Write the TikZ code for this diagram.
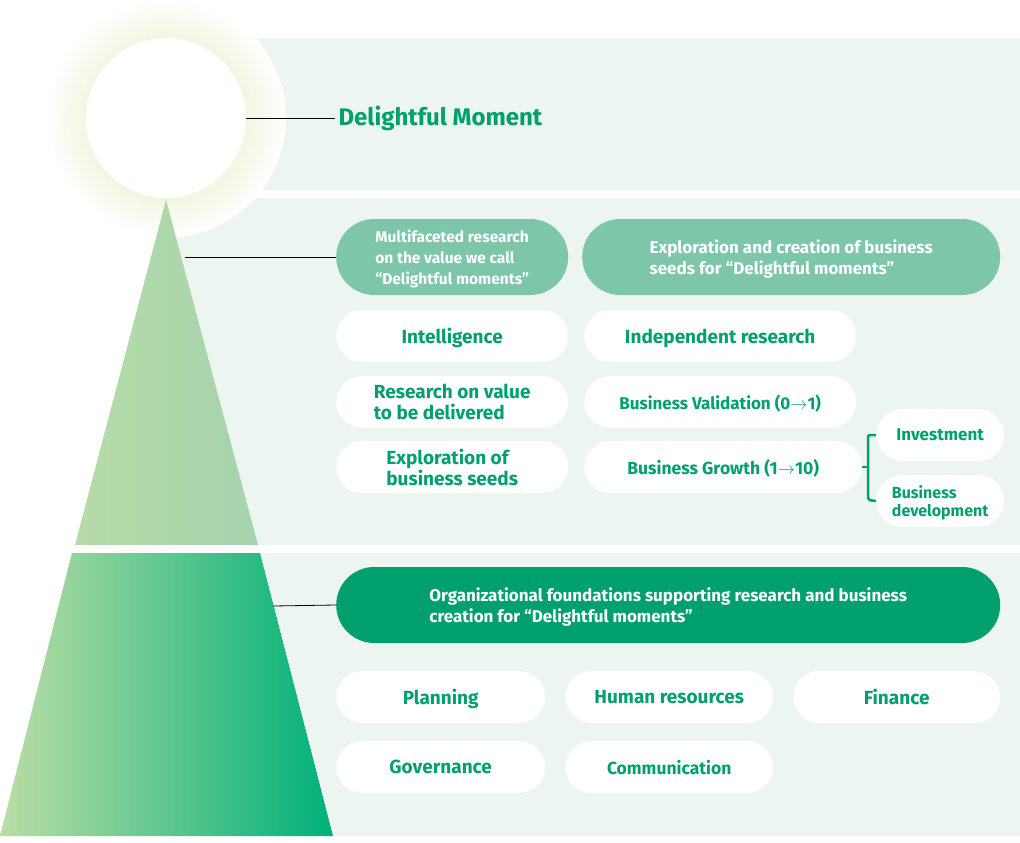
\documentclass[tikz,border=0pt]{standalone}
\usepackage{fontspec}
\setmainfont{Fira Sans}
\usetikzlibrary{positioning}
\definecolor{bgpanel}{HTML}{ECF5F0}
\definecolor{darkgreen}{HTML}{00A06E}
\definecolor{midgreen}{HTML}{7DC6A9}
\definecolor{glow}{HTML}{D3E6A6}
\tikzset{
  pill/.style={rounded corners=26pt, fill=white, anchor=west, align=left, text=darkgreen,
    font=\bfseries\fontsize{19}{21}\selectfont, inner xsep=20pt, text depth=0pt},
  head/.style={pill, fill=midgreen, text=white, font=\bfseries\fontsize{17}{21}\selectfont},
  leader/.style={draw=black, line width=0.8pt}
}
\begin{document}
\begin{tikzpicture}[x=1pt, y=-1pt]
  \useasboundingbox (0,0) rectangle (1020,843);
  %% PANELS
  \fill[bgpanel] (245,38) rectangle (1020,190);
  \fill[bgpanel] (170,198) rectangle (1020,545);
  \fill[bgpanel] (150,553) rectangle (1020,836);
  %% TREE
  \shade[left color=glow, right color=glow, inner color=glow, outer color=white, shading=radial]
    (166,118) circle (120);
  \fill[bgpanel, opacity=0] (0,0) rectangle (1,1);
  \shade[left color={rgb,255:red,183;green,219;blue,168}, right color={rgb,255:red,165;green,211;blue,174}]
    (166,200) -- (258,545) -- (75,545) -- cycle;
  \shade[left color={rgb,255:red,188;green,221;blue,165}, right color={rgb,255:red,0;green,176;blue,122}]
    (72,553) -- (260,553) -- (333,836) -- (0,836) -- cycle;
  \fill[white] (0,545) rectangle (340,553);
  \node[circle, fill=white, minimum size=160pt, inner sep=0pt] (moment) at (166,118) {};
  %% LABELS
  \node[anchor=west, text=darkgreen, font=\bfseries\fontsize{24}{26}\selectfont] (title) at (335,118) {Delightful Moment};
  \node[head, minimum width=232pt, minimum height=76pt, rounded corners=38pt, inner xsep=30pt,
        font=\bfseries\fontsize{15.5}{21}\selectfont] (research) at (336,257)
        {Multifaceted research\\on the value we call\\“Delightful moments”};
  \node[head, minimum width=418pt, minimum height=76pt, rounded corners=38pt, inner xsep=38pt] (seeds) at (582,257)
        {Exploration and creation of business\\seeds for “Delightful moments”};
  \node[pill, minimum width=232pt, minimum height=52pt] (intel) at (336,336) {Intelligence};
  \node[pill, minimum width=272pt, minimum height=52pt, inner xsep=16pt] (indep) at (584,336) {Independent research};
  \node[pill, minimum width=232pt, minimum height=52pt] (value) at (336,402) {Research on value\\to be delivered};
  \node[pill, minimum width=272pt, minimum height=52pt, inner xsep=17pt, font=\bfseries\fontsize{17}{21}\selectfont] (valid) at (584,402) {Business Validation (0$\rightarrow$1)};
  \node[pill, minimum width=232pt, minimum height=52pt] (explore) at (336,467) {Exploration of\\business seeds};
  \node[pill, minimum width=278pt, minimum height=52pt, inner xsep=18pt, font=\bfseries\fontsize{17.5}{21}\selectfont] (growth) at (584,467) {Business Growth (1$\rightarrow$10)};
  \node[pill, minimum width=128pt, minimum height=52pt, inner xsep=12pt, font=\bfseries\fontsize{17}{19}\selectfont] (invest) at (876,435) {Investment};
  \node[pill, minimum width=128pt, minimum height=52pt, inner xsep=12pt, font=\bfseries\fontsize{16}{18}\selectfont] (bizdev) at (876,501) {Business\\development};
  \node[head, fill=darkgreen, minimum width=664pt, minimum height=76pt, rounded corners=38pt, inner xsep=33pt] (found) at (336,605)
        {Organizational foundations supporting research and business\\creation for “Delightful moments”};
  \node[pill, minimum width=209pt, minimum height=52pt] (plan) at (336,697) {Planning};
  \node[pill, minimum width=208pt, minimum height=52pt] (human) at (565,697) {Human resources};
  \node[pill, minimum width=207pt, minimum height=52pt] (finance) at (793,697) {Finance};
  \node[pill, minimum width=209pt, minimum height=52pt] (govern) at (336,767) {Governance};
  \node[pill, minimum width=208pt, minimum height=52pt, font=\bfseries\fontsize{17.5}{21}\selectfont] (comm) at (565,767) {Communication};
  %% LEADERS
  \draw[leader] (moment.east) -- (title.west);
  \draw[leader] (185,257) -- (research.west);
  \draw[leader] (273,606) -- (found.west);
  \draw[darkgreen, line width=2.5pt] (growth.east) -- (868,467);
  \draw[darkgreen, line width=2.5pt, rounded corners=2pt] (invest.west) -- (868,435) -- (868,500) -- (bizdev.west);
\end{tikzpicture}
\end{document}
